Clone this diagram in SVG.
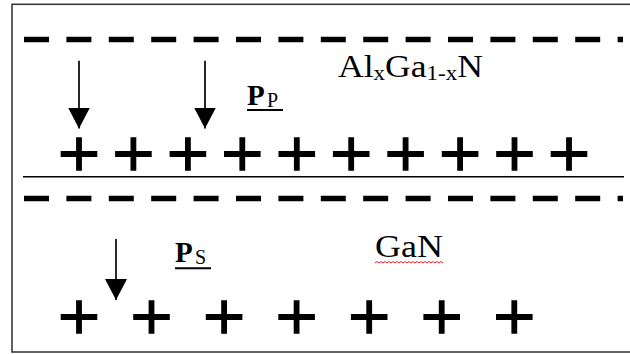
<svg xmlns="http://www.w3.org/2000/svg" xmlns:xlink="http://www.w3.org/1999/xlink" width="630" height="354" viewBox="0 0 630 354">
  <style>
    .frame { fill: #ffffff; stroke: #3a3a3a; stroke-width: 1.6; }
    .charge-neg { stroke: #000; stroke-width: 5.5; stroke-dasharray: 25 17.4; fill: none; }
    .iface { stroke: #000; stroke-width: 1.4; }
    .arrow { stroke: #000; stroke-width: 1.7; fill: none; marker-end: url(#head); }
    .lbl { font-family: "Liberation Serif", "Times New Roman", serif; fill: #000; }
    .sym { font-weight: bold; }
    .uline { stroke: #000; stroke-width: 2; }
  </style>
  <defs>
    <marker id="head" markerUnits="userSpaceOnUse" markerWidth="22" markerHeight="22" refX="21" refY="11" orient="auto" viewBox="0 0 22 22">
      <path d="M0,0 L21,11 L0,22 z" fill="#000"/>
    </marker>
    <g id="plus">
      <path d="M-18.3,0 H18.3 M0,-16.7 V16.7" stroke="#000" stroke-width="5.8" fill="none"/>
    </g>
  </defs>

  <rect class="frame" x="12" y="4.3" width="640" height="347.7"/>

  <!-- AlGaN barrier layer -->
  <g id="algan-layer">
    <line class="charge-neg" x1="24" y1="39.5" x2="623" y2="39.5"/>
    <text class="lbl" x="338" y="77.3" font-size="31" textLength="145" lengthAdjust="spacingAndGlyphs">Al<tspan font-size="20" dy="3">x</tspan><tspan dy="-3">Ga</tspan><tspan font-size="20" dy="3">1-x</tspan><tspan dy="-3">N</tspan></text>
    <g id="label-pp">
      <text class="lbl sym" x="247" y="105" font-size="29">P</text>
      <text class="lbl" x="267" y="107" font-size="20">P</text>
      <line class="uline" x1="247" y1="110" x2="283" y2="110"/>
    </g>
    <g id="row-plus-top">
      <use xlink:href="#plus" x="79" y="154"/>
      <use xlink:href="#plus" x="133.4" y="154"/>
      <use xlink:href="#plus" x="187.9" y="154"/>
      <use xlink:href="#plus" x="242.3" y="154"/>
      <use xlink:href="#plus" x="296.8" y="154"/>
      <use xlink:href="#plus" x="351.2" y="154"/>
      <use xlink:href="#plus" x="405.6" y="154"/>
      <use xlink:href="#plus" x="460.1" y="154"/>
      <use xlink:href="#plus" x="514.5" y="154"/>
      <use xlink:href="#plus" x="569" y="154"/>
    </g>
  </g>

  <!-- heterointerface -->
  <line id="interface" class="iface" x1="23" y1="176.7" x2="624" y2="176.7"/>

  <!-- GaN layer -->
  <g id="gan-layer">
    <line class="charge-neg" x1="24" y1="198.5" x2="623" y2="198.5"/>
    <g id="label-ps">
      <text class="lbl sym" x="175" y="261.7" font-size="29">P</text>
      <text class="lbl" x="195" y="264" font-size="20">S</text>
      <line class="uline" x1="175" y1="268.3" x2="211" y2="268.3"/>
    </g>
    <g id="label-gan">
      <text class="lbl" x="375" y="257.3" font-size="31" textLength="68" lengthAdjust="spacingAndGlyphs">GaN</text>
      <path d="M375,263 l2,-1.5 l2,1.5 l2,-1.5 l2,1.5 l2,-1.5 l2,1.5 l2,-1.5 l2,1.5 l2,-1.5 l2,1.5 l2,-1.5 l2,1.5 l2,-1.5 l2,1.5 l2,-1.5 l2,1.5 l2,-1.5 l2,1.5 l2,-1.5 l2,1.5 l2,-1.5 l2,1.5 l2,-1.5 l2,1.5 l2,-1.5 l2,1.5 l2,-1.5 l2,1.5 l2,-1.5 l2,1.5 l2,-1.5 l2,1.5 l2,-1.5 l2,1.5" stroke="#e02020" stroke-width="1" fill="none"/>
    </g>
    <g id="row-plus-bottom">
      <use xlink:href="#plus" x="79" y="317"/>
      <use xlink:href="#plus" x="151.5" y="317"/>
      <use xlink:href="#plus" x="224.1" y="317"/>
      <use xlink:href="#plus" x="296.6" y="317"/>
      <use xlink:href="#plus" x="369.2" y="317"/>
      <use xlink:href="#plus" x="441.7" y="317"/>
      <use xlink:href="#plus" x="514.3" y="317"/>
    </g>
  </g>

  <!-- polarization arrows -->
  <g id="connectors">
    <line class="arrow" x1="79" y1="60.7" x2="79" y2="128.5"/>
    <line class="arrow" x1="205" y1="60.7" x2="205" y2="128.5"/>
    <line class="arrow" x1="116" y1="239" x2="116" y2="300"/>
  </g>
</svg>
